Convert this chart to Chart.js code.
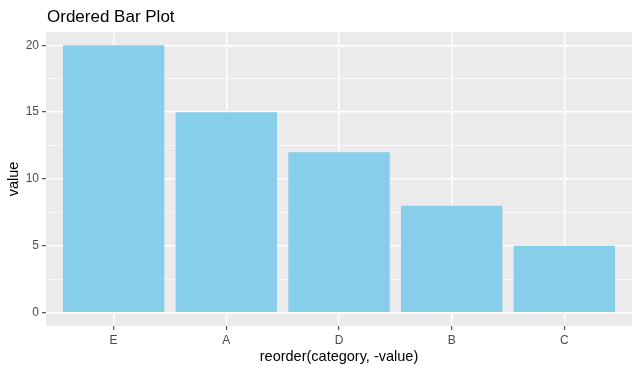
<!DOCTYPE html>
<html>
<head>
<meta charset="utf-8">
<script src="https://cdn.jsdelivr.net/npm/chart.js@4.4.1/dist/chart.umd.min.js"></script>
<style>
html,body{margin:0;padding:0;background:#fff;}
#wrap{width:640px;height:371px;position:relative;}
</style>
</head>
<body>
<div id="wrap"><canvas id="c" width="640" height="371"></canvas></div>
<script>
const categories = ['E', 'A', 'D', 'B', 'C'];
const values = [20, 15, 12, 8, 5];
const yTicks = [0, 5, 10, 15, 20];
const yMinorTicks = [2.5, 7.5, 12.5, 17.5];
const chartTitle = 'Ordered Bar Plot';
const xTitle = 'reorder(category, -value)';
const yTitle = 'value';

const FONT = "'Liberation Sans', Arial, sans-serif";
const points = categories.map((c, i) => ({x: i + 1, y: values[i]}));

const panelBg = {
  id: 'panelBg',
  beforeDraw(chart) {
    const {ctx, chartArea: a} = chart;
    ctx.save();
    ctx.fillStyle = '#EBEBEB';
    ctx.fillRect(a.left, a.top, a.right - a.left, a.bottom - a.top);
    ctx.restore();
  },
  afterDraw(chart) {
    const {ctx} = chart;
    ctx.save();
    ctx.fillStyle = '#000000';
    ctx.font = '17px ' + FONT;
    ctx.textAlign = 'left';
    ctx.textBaseline = 'alphabetic';
    ctx.fillText(chartTitle, 47, 22);
    ctx.restore();
  }
};

const isMajor = v => yTicks.includes(v);

new Chart(document.getElementById('c'), {
  type: 'bar',
  data: {
    datasets: [{
      data: points,
      backgroundColor: '#87CEEB',
      borderWidth: 0,
      categoryPercentage: 1,
      barPercentage: 0.9
    }]
  },
  options: {
    responsive: false,
    animation: false,
    devicePixelRatio: 1,
    layout: {padding: {top: 32, right: 8, left: 0, bottom: 0}},
    plugins: {legend: {display: false}, tooltip: {enabled: false}, title: {display: false}},
    scales: {
      x: {
        type: 'linear',
        min: 0.4,
        max: 5.6,
        offset: false,
        afterBuildTicks(scale) { scale.ticks = categories.map((c, i) => ({value: i + 1})); },
        afterFit(scale) { scale.height = 45; },
        border: {display: false},
        grid: {
          offset: false,
          color: '#FFFFFF',
          lineWidth: 1.4,
          tickColor: '#333333',
          tickWidth: 1,
          tickLength: 4,
          drawTicks: true
        },
        ticks: {
          autoSkip: false,
          maxRotation: 0,
          padding: 3,
          color: '#4D4D4D',
          font: {family: FONT, size: 12},
          callback: (v) => categories[v - 1] ?? ''
        },
        title: {
          display: true,
          text: xTitle,
          color: '#000000',
          font: {family: FONT, size: 14.5},
          padding: {top: 0, bottom: 5}
        }
      },
      y: {
        type: 'linear',
        min: -1,
        max: 21,
        afterBuildTicks(scale) {
          scale.ticks = [...yTicks, ...yMinorTicks].sort((a, b) => a - b).map(v => ({value: v}));
        },
        afterFit(scale) { scale.width = 46; },
        border: {display: false},
        grid: {
          color: '#FFFFFF',
          lineWidth: (ctx) => isMajor(ctx.tick.value) ? 1.4 : 0.7,
          tickColor: (ctx) => isMajor(ctx.tick.value) ? '#333333' : 'rgba(0,0,0,0)',
          tickWidth: 1,
          tickLength: 4,
          drawTicks: true
        },
        ticks: {
          autoSkip: false,
          padding: 3,
          color: '#4D4D4D',
          font: {family: FONT, size: 12},
          callback: (v) => isMajor(v) ? String(v) : ''
        },
        title: {
          display: true,
          text: yTitle,
          color: '#000000',
          font: {family: FONT, size: 14.5},
          padding: {top: 5, bottom: 0}
        }
      }
    }
  },
  plugins: [panelBg]
});
</script>
</body>
</html>
